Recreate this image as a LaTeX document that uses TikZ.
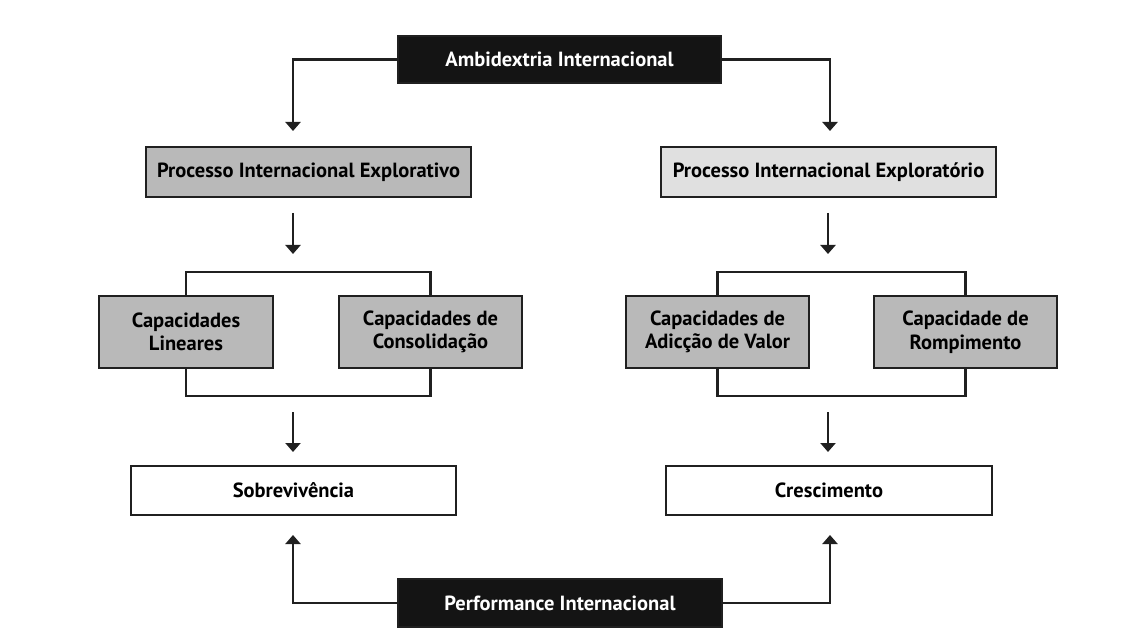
\documentclass[tikz,border=0pt]{standalone}
\usepackage{fontspec}
\setmainfont{PT Sans}
\usetikzlibrary{arrows.meta}
\definecolor{boxgray}{HTML}{B9B9B9}
\definecolor{boxlight}{HTML}{E0E0E0}
\definecolor{boxdark}{HTML}{141414}
\definecolor{linec}{HTML}{202020}
\tikzset{
  base/.style={draw=linec, line width=2.9pt, inner sep=0pt, align=center,
    font=\fontsize{20.5}{23.5}\selectfont\bfseries},
  darkbox/.style={base, fill=boxdark, text=white},
  graybox/.style={base, fill=boxgray},
  lightbox/.style={base, fill=boxlight},
  whitebox/.style={base, fill=white},
  conn/.style={draw=linec, line width=2.8pt},
  arr/.style={conn, -{Triangle[width=15pt,length=9pt]}}
}
\begin{document}
\begin{tikzpicture}[x=1pt,y=-1pt]
\useasboundingbox[fill=white] (0,0) rectangle (1129,628);
% top
\node[darkbox, minimum width=323, minimum height=47] (amb) at (559.5,59.5) {Ambidextria Internacional};
\node[graybox, minimum width=325, minimum height=50] (pl) at (308.5,172) {Processo Internacional Explorativo};
\node[lightbox, minimum width=335, minimum height=50] (pr) at (828.5,172) {Processo Internacional Exploratório};
\coordinate (ta) at (293,131);
\coordinate (tb) at (830,131);
\draw[arr] (amb.west) -| (ta);
\draw[arr] (amb.east) -| (tb);
% arrows to brackets
\coordinate (a1s) at (293,213); \coordinate (a1e) at (293,254);
\coordinate (a2s) at (828,213); \coordinate (a2e) at (828,254);
\draw[arr] (a1s) -- (a1e);
\draw[arr] (a2s) -- (a2e);
% capability boxes
\node[graybox, minimum width=174, minimum height=72] (c1) at (186,332) {Capacidades\\Lineares};
\node[graybox, minimum width=183, minimum height=72] (c2) at (430.5,332) {Capacidades de\\Consolidação};
\node[graybox, minimum width=183, minimum height=72] (c3) at (717.5,332) {Capacidades de\\Adicção de Valor};
\node[graybox, minimum width=183, minimum height=72] (c4) at (965.5,332) {Capacidade de\\Rompimento};
\coordinate (b1t) at (300,272); \coordinate (b1b) at (300,396);
\coordinate (b2t) at (840,272); \coordinate (b2b) at (840,396);
\draw[conn] (c1.north) |- (b1t) -| (c2.north);
\draw[conn] (c1.south) |- (b1b) -| (c2.south);
\draw[conn] (c3.north) |- (b2t) -| (c4.north);
\draw[conn] (c3.south) |- (b2b) -| (c4.south);
% arrows to outcomes
\coordinate (a3s) at (293,412); \coordinate (a3e) at (293,452);
\coordinate (a4s) at (828,412); \coordinate (a4e) at (828,452);
\draw[arr] (a3s) -- (a3e);
\draw[arr] (a4s) -- (a4e);
\node[whitebox, minimum width=325, minimum height=49] (sob) at (293.5,490.5) {Sobrevivência};
\node[whitebox, minimum width=326, minimum height=49] (cre) at (829,490.5) {Crescimento};
% bottom
\node[darkbox, minimum width=324, minimum height=48] (perf) at (560,603) {Performance Internacional};
\coordinate (ua) at (293,535);
\coordinate (ub) at (830,535);
\draw[arr] (perf.west) -| (ua);
\draw[arr] (perf.east) -| (ub);
\end{tikzpicture}
\end{document}
